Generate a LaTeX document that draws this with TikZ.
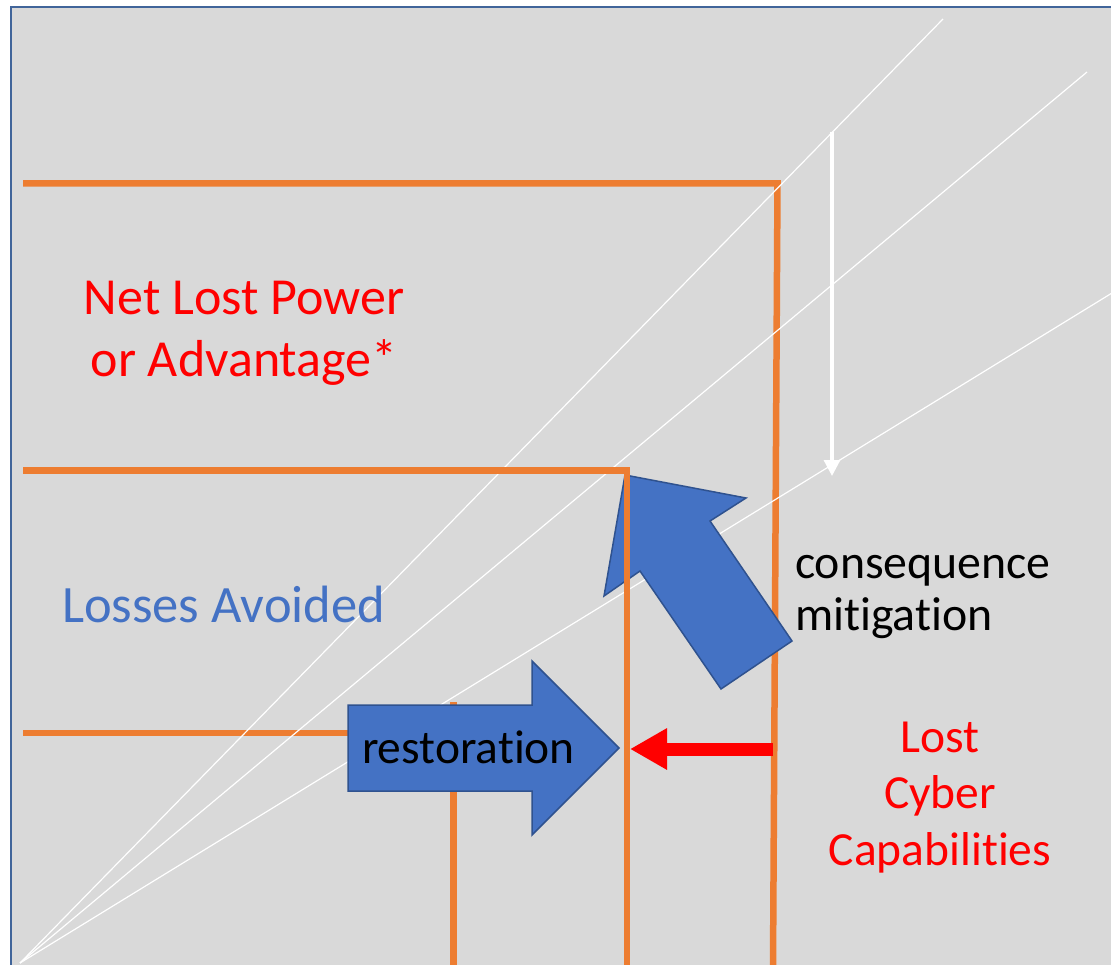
\documentclass[tikz,border=0pt]{standalone}
\usepackage{fontspec}
\setmainfont{Carlito}[Ligatures=NoCommon]
\usetikzlibrary{arrows.meta}
\definecolor{panelgray}{HTML}{D9D9D9}
\definecolor{frameblue}{HTML}{41659A}
\definecolor{lineorange}{HTML}{ED7D31}
\definecolor{arrowblue}{HTML}{4472C4}
\definecolor{arrowedge}{HTML}{2F528F}
\definecolor{textred}{HTML}{FF0000}
\begin{document}
\begin{tikzpicture}[x=1pt,y=-1pt,
  level/.style={draw=lineorange,line width=6.5pt},
  ray/.style={draw=white,line width=1.2pt},
  bigarrow/.style={fill=arrowblue,draw=arrowedge,line width=1.5pt,line join=miter},
  txt/.style={inner sep=0pt,outer sep=0pt}
]
\useasboundingbox (0,0) rectangle (1111,965);
% panel and frame
\fill[white] (0,0) rectangle (1111,965);
\fill[panelgray] (11,7) rectangle (1112,966);
\draw[frameblue,line width=2.5pt] (11,967) -- (11,7) -- (1113,7);

% key points
\coordinate (o) at (20,963);
\coordinate (r1) at (943,19);
\coordinate (r2) at (1087,72);
\coordinate (r3) at (1112,293);
\coordinate (topL) at (23,183.5);
\coordinate (topC) at (777.5,183.5);
\coordinate (topB) at (773,967);
\coordinate (lowL) at (23,733);
\coordinate (lowR) at (455,733);
\coordinate (lowT) at (453.5,702);
\coordinate (lowB) at (453.5,967);
\coordinate (midL) at (23,470.5);
\coordinate (midC) at (627,470.5);
\coordinate (midB) at (627,967);
\coordinate (wtop) at (832,132);
\coordinate (wtip) at (832,476);
\coordinate (redstart) at (773,749);
\coordinate (redtip) at (630,749);

% orange level lines
\draw[level] (topL) -- (topC) -- (topB);
\draw[level] (lowL) -- (lowR);
\draw[level] (lowT) -- (lowB);

% white rays from the origin
\draw[ray] (o) -- (r1);
\draw[ray] (o) -- (r2);
\draw[ray] (o) -- (r3);

% white downward arrow
\draw[white,line width=3.2pt,-{Triangle[length=16pt,width=16pt]}] (wtop) -- (wtip);

% consequence mitigation arrow
\draw[bigarrow] (625,475) -- (746,498) -- (710,521) -- (792,641)
  -- (721,689) -- (640,571) -- (604,596) -- cycle;

% middle orange level line
\draw[level] (midL) -- (midC) -- (midB);

% restoration arrow
\draw[bigarrow] (348,705) -- (532,705) -- (532,661) -- (619,748)
  -- (532,835) -- (532,791) -- (348,791) -- cycle;
\node[txt,anchor=base west,font=\fontsize{47.5}{56}\selectfont] (rest) at (362,763) {restoration};

% red arrow
\draw[textred,line width=13pt,-{Triangle[length=37pt,width=39pt]}] (redstart) -- (redtip);

% labels (multi-line nodes are anchored at the baseline of their last line)
\node[txt,anchor=base,text=textred,font=\fontsize{52}{62}\selectfont,align=center] (net) at (244,377) {Net Lost Power\\or Advantage*};
\node[txt,anchor=base west,text=arrowblue,font=\fontsize{52.5}{62}\selectfont] (avoided) at (62,622) {Losses Avoided};
\node[txt,anchor=base west,font=\fontsize{47.8}{52}\selectfont,align=left] (mitig) at (795,630) {consequence\\mitigation};
\node[txt,anchor=base,text=textred,font=\fontsize{47.5}{56.5}\selectfont,align=center] (lostcyber) at (940,865) {Lost\\Cyber\\Capabilities};
\end{tikzpicture}
\end{document}
